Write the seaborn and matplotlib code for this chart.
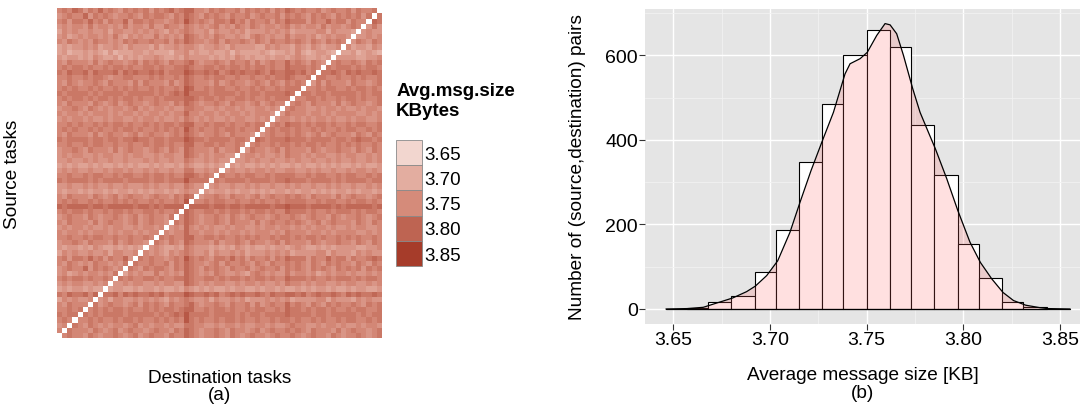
import numpy as np
import pandas as pd
import seaborn as sns
import matplotlib.pyplot as plt
from matplotlib.colors import LinearSegmentedColormap
from matplotlib.patches import Patch
from matplotlib.ticker import MultipleLocator

# --- data: heatmap levels, one string per displayed row (top -> bottom), 64 tasks
# each digit d is an estimated level: avg size = 3.655 + 0.02 * d  (KBytes)
rows = [
    "5657 6465 7565 4656 5646 5675 6775 5465 6556 4656 5646 5765 6556 4565 5646 5565",
    "4565 5746 5654 5565 4656 6546 5765 4656 5465 5645 6556 4656 5465 6546 5656 4656",
    "5646 6575 6465 5746 6565 5456 5865 6546 6575 6465 5646 5766 6465 5756 6465 5676",
    "4545 5464 5545 4645 5464 4655 4654 5456 4546 5465 4554 5645 4554 6455 4565 5464",
    "3545 4454 4535 5445 4545 4354 5654 4535 4454 5344 4545 4534 4445 5354 4435 4544",
    "4534 5455 4546 4354 5446 4545 4765 4546 5445 4356 5454 4645 5453 4545 5454 4545",
    "5465 4546 5545 4656 5565 5646 5765 5456 4655 6546 5465 5656 5465 4656 5546 5465",
    "3434 4545 3445 4354 4435 3445 4554 3445 4354 4443 3545 4435 4354 3445 4534 4354",
    "3423 3434 3242 3334 4343 3324 4534 3343 3424 3333 4323 3435 3234 4323 3342 3432",
    "4344 3435 4334 2434 3445 4334 3544 4434 3435 4343 3434 4345 4334 3434 4443 3445",
    "5465 5546 4565 5456 4656 5465 5675 4556 5465 5646 4565 5756 5465 4656 5565 4656",
    "5656 6565 5656 6565 5665 6556 6765 5665 6566 5656 6565 5766 6565 5656 6656 5665",
    "6576 6757 6667 5767 6676 7566 6876 6767 5676 7667 6576 6776 7567 6676 5767 6676",
    "5565 5656 6545 5665 5565 6556 5765 5656 6556 5565 5656 6765 5656 6556 5565 6556",
    "5465 4556 5465 5546 4655 5464 5765 5546 4565 5456 5465 4656 5546 4655 5465 5456",
    "5656 5565 6556 5656 5565 6556 5875 5656 6556 5565 6556 5666 6556 5665 5656 6565",
    "6566 6656 5666 6566 6665 6567 6866 6656 6665 6566 5666 6766 6656 6566 6665 6566",
    "5656 6565 6656 5665 6556 5666 6776 5665 6556 6565 5656 6675 5665 6556 5665 6556",
    "5465 5546 5456 4565 5456 5546 5765 4556 5465 5456 4565 5656 5465 5546 4565 5456",
    "4556 5465 4545 5456 4545 5454 4665 5445 4554 5445 5454 4565 5445 4554 5445 4554",
    "5455 4545 5545 4554 5455 4545 5755 4554 5455 4545 5545 4655 5455 4545 5554 4545",
    "4545 5454 4545 5445 4554 5445 4654 5454 4545 5445 4554 5545 4545 5454 4545 5445",
    "5565 6556 5656 6565 5656 5665 6775 5656 6565 5656 6556 5766 5656 6565 5656 6556",
    "5656 5565 6556 5665 6556 5656 5865 6556 5665 6556 5565 6656 5565 6556 5665 5656",
    "5465 5546 4565 5456 4565 5456 5765 4556 5465 5546 4565 5656 5456 4565 5546 5465",
    "6566 6656 6566 5667 6656 6566 6876 6566 6656 6567 6566 6766 6566 6656 6567 6656",
    "5565 5656 6556 5565 5656 6565 5775 5665 6556 5656 5565 6656 5665 6556 5656 5565",
    "4556 5465 5546 4565 5456 5465 4765 5546 4556 5465 5456 4655 5465 4556 5546 5465",
    "4545 5445 4554 4545 5445 4554 4765 4545 5445 4554 5445 4655 4545 5445 4554 4545",
    "4454 4545 4454 4544 4545 4454 4654 4545 4454 4545 4454 4545 4454 4545 4454 4545",
    "3434 3343 4334 3434 3343 4334 3543 3434 3343 4334 3434 3343 4334 3434 3343 4334",
    "4545 4454 4545 5454 4545 4454 4664 4545 4454 4545 5454 4554 4545 4454 4545 5454",
    "5565 5656 6556 5665 5656 6565 5776 5656 6556 5665 5656 6665 5656 6556 5665 5656",
    "6566 6656 5666 6566 6656 6566 6866 6656 5666 6566 6656 6766 6566 6656 5666 6566",
    "4454 4545 4454 4544 4545 4454 4654 4545 4454 4545 4454 4545 4454 4545 4454 4545",
    "4344 3434 4343 4434 3434 4343 4544 3434 4343 4434 3434 4343 4434 3434 4343 4434",
    "5465 5546 5456 4565 5456 5546 5765 4556 5465 5456 4565 5656 5465 5546 4565 5456",
    "5656 5565 6556 5656 5565 6556 5865 5656 6556 5565 6556 5666 6556 5665 5656 6565",
    "7677 7767 7677 7776 7767 6777 7877 7767 7677 6777 7767 7877 7677 7767 6777 7767",
    "5656 6565 5656 6565 5665 6556 6765 5665 6566 5656 6565 5766 6565 5656 6656 5665",
    "4565 5465 4556 5456 4565 5465 5765 4556 5465 4565 5456 5565 4565 5465 4556 5456",
    "5465 5546 4565 5456 4565 5456 5765 4556 5465 5546 4565 5656 5456 4565 5546 5465",
    "4545 5454 4545 5445 4554 5445 4754 5454 4545 5445 4554 5545 4545 5454 4545 5445",
    "5455 4545 5545 4554 5455 4545 5755 4554 5455 4545 5545 4655 5455 4545 5554 4545",
    "5565 5656 6556 5565 5656 6565 5775 5665 6556 5656 5565 6656 5665 6556 5656 5565",
    "4556 5465 5546 4565 5456 5465 4765 5546 4556 5465 5456 4655 5465 4556 5546 5465",
    "4344 3435 4334 3434 3445 4334 3654 4434 3435 4343 3434 4345 4334 3434 4443 3445",
    "3545 4454 4535 5445 4545 4354 5654 4535 4454 5344 4545 4534 4445 5354 4435 4544",
    "5646 6575 6465 5746 6565 5456 5865 6546 6575 6465 5646 5766 6465 5756 6465 5676",
    "5465 4546 5545 4656 5565 5646 5765 5456 4655 6546 5465 5656 5465 4656 5546 5465",
    "4565 5746 5654 5565 4656 6546 5765 4656 5465 5645 6556 4656 5465 6546 5656 4656",
    "4534 5455 4546 4354 5446 4545 4765 4546 5445 4356 5454 4645 5453 4545 5454 4545",
    "5656 6565 5656 6565 5665 6556 6765 5665 6566 5656 6565 5766 6565 5656 6656 5665",
    "4545 5445 4554 4545 5445 4554 4765 4545 5445 4554 5445 4655 4545 5445 4554 4545",
    "3434 4343 3434 4334 3443 4334 3543 4343 3434 4334 3443 4334 3434 4343 3434 4334",
    "6576 6757 6667 5767 6676 7566 6876 6767 5676 7667 6576 6776 7567 6676 5767 6676",
    "3545 4454 4535 5445 4545 4354 5654 4535 4454 5344 4545 4534 4445 5354 4435 4544",
    "5465 5546 4565 5456 4656 5465 5675 4556 5465 5646 4565 5756 5465 4656 5565 4656",
    "5565 6556 5656 6565 5656 5665 6775 5656 6565 5656 6556 5766 5656 6565 5656 6556",
    "6566 6656 5666 6566 6665 6567 6866 6656 6665 6566 5666 6766 6656 6566 6665 6566",
    "5656 5565 6556 5665 6556 5656 5865 6556 5665 6556 5565 6656 5565 6556 5665 5656",
    "4556 5465 4545 5456 4545 5454 4665 5445 4554 5445 5454 4565 5445 4554 5445 4554",
    "5465 5546 5456 4565 5456 5546 5765 4556 5465 5456 4565 5656 5465 5546 4565 5456",
    "4565 5465 4556 5456 4565 5465 5765 4556 5465 4565 5456 5565 4565 5465 4556 5456",
]

legend_values = [3.65, 3.70, 3.75, 3.80, 3.85]
legend_colors = ["#F2D6CF", "#E3ADA0", "#D58B7A", "#BE6452", "#A63C2A"]

# --- data: histogram of the 4032 (source,destination) averages
bin_edges = [3.657, 3.668, 3.680, 3.692, 3.703, 3.715, 3.727, 3.738, 3.750,
             3.762, 3.773, 3.785, 3.797, 3.808, 3.820, 3.831, 3.843]
bin_counts = [2, 17, 30, 88, 187, 347, 486, 600, 660, 619, 434, 318, 154, 74, 17, 5]

# density curve (scaled to counts)
dens_x = [3.6462, 3.6574, 3.6655, 3.6724, 3.6807, 3.6879, 3.6924, 3.6983, 3.7040,
          3.7103, 3.7155, 3.7212, 3.7271, 3.7328, 3.7388, 3.7414, 3.7466, 3.7503,
          3.7552, 3.7595, 3.7621, 3.7655, 3.7690, 3.7738, 3.7776, 3.7819, 3.7855,
          3.7914, 3.7971, 3.8034, 3.8088, 3.8147, 3.8205, 3.8259, 3.8322, 3.8397,
          3.8436, 3.8552]
dens_y = [0, 1, 4, 14, 26, 41, 54, 79, 114, 181, 252, 327, 398, 465, 556, 580,
          592, 607, 647, 675, 672, 651, 600, 521, 465, 418, 379, 308, 233, 158,
          110, 71, 39, 20, 9, 3, 1, 0]

# --- build the matrix
levels = np.array([[int(ch) for ch in "".join(r.split())] for r in rows], dtype=float)
sizes = 3.655 + 0.02 * levels
n = sizes.shape[0]
src = np.arange(n - 1, -1, -1)          # source task index of each displayed row
dst = np.arange(n)
mat = pd.DataFrame(sizes, index=src, columns=dst)
diag = src[:, None] == dst[None, :]

sns.set_theme(style="white")
plt.rcParams["font.family"] = ["Liberation Sans", "DejaVu Sans"]
plt.rcParams["text.color"] = "black"
plt.rcParams["axes.labelcolor"] = "black"

FS = 13.7

cmap = LinearSegmentedColormap.from_list(
    "msg", list(zip(np.linspace(0, 1, len(legend_colors)), legend_colors)))

fig = plt.figure(figsize=(10.87, 4.10), dpi=100)

# (a) heatmap
ax1 = fig.add_axes([0.0527, 0.1732, 0.2984, 0.8041])
sns.heatmap(mat, mask=diag, cmap=cmap, vmin=3.65, vmax=3.85, cbar=False,
            xticklabels=False, yticklabels=False, ax=ax1)
ax1.set_facecolor("white")
ax1.set_xlabel("Destination tasks\n(a)", fontsize=FS, labelpad=22, linespacing=1.05)
ax1.set_ylabel("Source tasks", fontsize=FS, labelpad=26)

handles = [Patch(facecolor=c, edgecolor="#8a8a8a", linewidth=0.6) for c in legend_colors]
leg = fig.legend(handles, ["%.2f" % v for v in legend_values],
                 title="Avg.msg.size\nKBytes", loc="upper left",
                 bbox_to_anchor=(0.3575, 0.815), frameon=False, fontsize=13.5,
                 title_fontproperties={"weight": "bold", "size": 13.5},
                 handlelength=1.39, handleheight=1.7, labelspacing=0.0,
                 handletextpad=0.12, borderaxespad=0)
leg._legend_box.align = "left"
leg._legend_box.sep = 15

# (b) histogram + density
ax2 = fig.add_axes([0.5934, 0.2073, 0.4002, 0.7683])
ax2.set_facecolor("#E5E5E5")
ax2.set_axisbelow(True)
sns.histplot(x=bin_edges[:-1], weights=bin_counts, bins=bin_edges, color="white",
             edgecolor="black", linewidth=0.8, alpha=1.0, ax=ax2)
ax2.fill_between(dens_x, dens_y, color="#FF6666", alpha=0.2, linewidth=0)
ax2.plot(dens_x, dens_y, color="black", linewidth=0.9)
ax2.plot([dens_x[0], dens_x[-1]], [0, 0], color="black", linewidth=0.9)

ax2.set_xlim(3.6354, 3.8603)
ax2.set_ylim(-35.5, 709.5)
ax2.xaxis.set_major_locator(MultipleLocator(0.05))
ax2.xaxis.set_minor_locator(MultipleLocator(0.025))
ax2.yaxis.set_major_locator(MultipleLocator(200))
ax2.yaxis.set_minor_locator(MultipleLocator(100))
ax2.set_xticks([3.65, 3.70, 3.75, 3.80, 3.85], ["3.65", "3.70", "3.75", "3.80", "3.85"])
ax2.grid(which="major", color="white", linewidth=1.0)
ax2.grid(which="minor", color="#F2F2F2", linewidth=0.6)
for s in ax2.spines.values():
    s.set_visible(False)
ax2.tick_params(which="major", length=4, width=0.8, color="#333333",
                labelsize=14, labelcolor="black", pad=1)
ax2.tick_params(which="minor", length=0)
ax2.tick_params(axis="x", which="major", bottom=True)
ax2.tick_params(axis="y", which="major", left=True)
ax2.set_xlabel("Average message size [KB]\n(b)", fontsize=FS, labelpad=13, linespacing=1.1)
ax2.set_ylabel("Number of (source,destination) pairs", fontsize=FS, labelpad=14)

fig.savefig("out.png", dpi=100)
